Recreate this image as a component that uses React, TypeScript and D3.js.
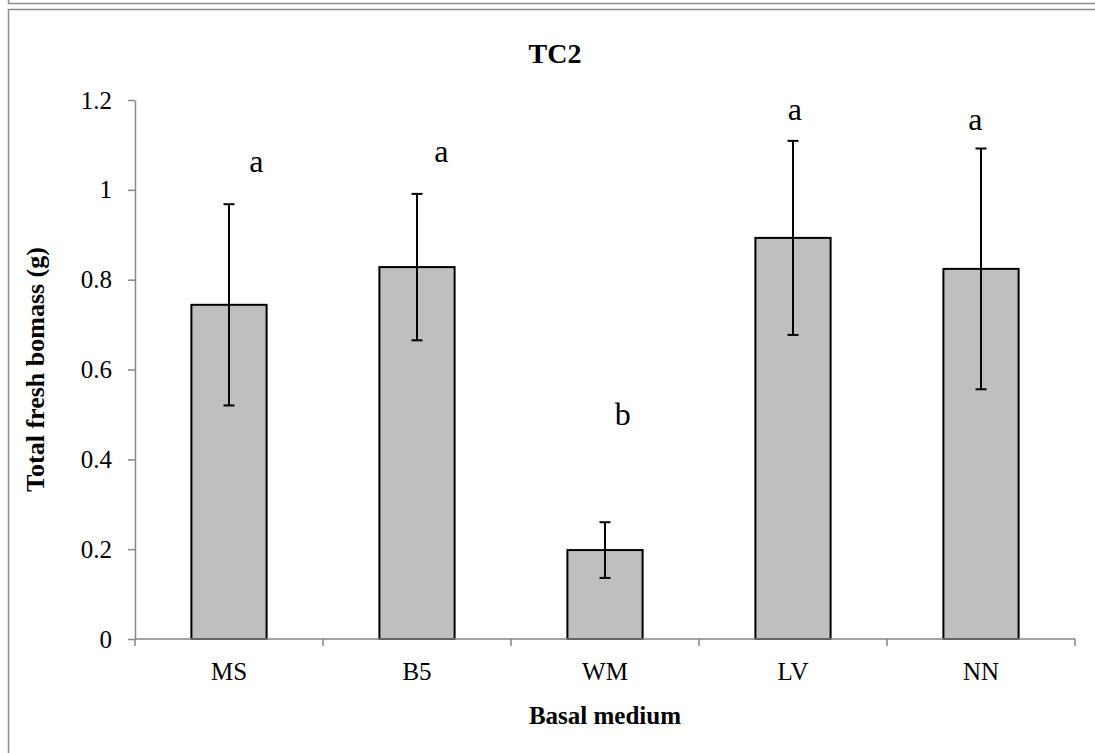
import React, { useEffect, useRef } from "react";
import * as d3 from "d3";

const categories = ["MS", "B5", "WM", "LV", "NN"];
const biomass = [0.744, 0.828, 0.198, 0.893, 0.824];
const errors = [0.224, 0.163, 0.062, 0.216, 0.268];
const letters = ["a", "a", "b", "a", "a"];
const letterHeights = [1.04, 1.062, 0.477, 1.155, 1.133];
// letters sit a little off the bar centre, as in the original (fraction of a category step)
const letterShift = [0.145, 0.13, 0.095, 0.01, -0.03];
const yTicks = [0, 0.2, 0.4, 0.6, 0.8, 1, 1.2];

const W = 1095;
const H = 753;

const App = () => {
    const chartRef = useRef<SVGSVGElement>(null);

    useEffect(() => {
        const svg = d3.select(chartRef.current);
        svg.selectAll("*").remove();

        const font = "'Liberation Serif', 'Times New Roman', serif";
        const left = 135;
        const right = 1075;
        const top = 100;
        const bottom = 639;

        // frame bits (previous chart's bottom edge + this chart's box)
        svg.append("path")
            .attr("d", `M8.5,0 V3.5 H${W}`)
            .attr("fill", "none")
            .attr("stroke", "#8c8c8c")
            .attr("stroke-width", 1.5);
        svg.append("path")
            .attr("d", `M${W},9.5 H8.5 V${H}`)
            .attr("fill", "none")
            .attr("stroke", "#8c8c8c")
            .attr("stroke-width", 1.5);

        const x = d3
            .scaleBand()
            .domain(categories)
            .range([left, right])
            .paddingInner(0.6)
            .paddingOuter(0.3);

        const y = d3.scaleLinear().domain([0, 1.2]).range([bottom, top]);

        // y axis
        const yAxis = svg
            .append("g")
            .attr("transform", `translate(${left},0)`)
            .call(
                d3
                    .axisLeft(y)
                    .tickValues(yTicks)
                    .tickSize(7)
                    .tickSizeOuter(0)
                    .tickPadding(16)
                    .tickFormat((d) => String(+(+d).toFixed(1)))
            );
        yAxis.select(".domain").attr("stroke", "#868686").attr("stroke-width", 1.5);
        yAxis.selectAll(".tick line").attr("stroke", "#868686").attr("stroke-width", 1.5);
        yAxis
            .selectAll(".tick text")
            .attr("font-family", font)
            .attr("font-size", 25)
            .attr("fill", "#000");

        // bars
        svg.append("g")
            .selectAll("rect")
            .data(categories)
            .enter()
            .append("rect")
            .attr("x", (d) => x(d)!)
            .attr("width", x.bandwidth())
            .attr("y", (d, i) => y(biomass[i]))
            .attr("height", (d, i) => y(0) - y(biomass[i]))
            .attr("fill", "#bfbfbf")
            .attr("stroke", "#000")
            .attr("stroke-width", 2);

        // x axis line + ticks on category boundaries
        const step = x.step();
        const xg = svg.append("g");
        xg.append("line")
            .attr("x1", left)
            .attr("x2", right)
            .attr("y1", y(0))
            .attr("y2", y(0))
            .attr("stroke", "#868686")
            .attr("stroke-width", 1.5);
        xg.selectAll("line.tk")
            .data(d3.range(categories.length + 1))
            .enter()
            .append("line")
            .attr("class", "tk")
            .attr("x1", (i) => left + i * step)
            .attr("x2", (i) => left + i * step)
            .attr("y1", y(0))
            .attr("y2", y(0) + 7)
            .attr("stroke", "#868686")
            .attr("stroke-width", 1.5);
        xg.selectAll("text")
            .data(categories)
            .enter()
            .append("text")
            .attr("x", (d) => x(d)! + x.bandwidth() / 2)
            .attr("y", 680)
            .attr("text-anchor", "middle")
            .attr("font-family", font)
            .attr("font-size", 25)
            .text((d) => d);

        // error bars
        const eg = svg.append("g").attr("stroke", "#000").attr("stroke-width", 2);
        categories.forEach((c, i) => {
            const cx = x(c)! + x.bandwidth() / 2;
            const hi = y(biomass[i] + errors[i]);
            const lo = y(biomass[i] - errors[i]);
            eg.append("line").attr("x1", cx).attr("x2", cx).attr("y1", hi).attr("y2", lo);
            eg.append("line").attr("x1", cx - 5.5).attr("x2", cx + 5.5).attr("y1", hi).attr("y2", hi);
            eg.append("line").attr("x1", cx - 5.5).attr("x2", cx + 5.5).attr("y1", lo).attr("y2", lo);
        });

        // significance letters
        svg.append("g")
            .selectAll("text")
            .data(categories)
            .enter()
            .append("text")
            .attr("x", (d, i) => x(d)! + x.bandwidth() / 2 + letterShift[i] * step)
            .attr("y", (d, i) => y(letterHeights[i]))
            .attr("text-anchor", "middle")
            .attr("font-family", font)
            .attr("font-size", 32)
            .text((d, i) => letters[i]);

        // titles
        svg.append("text")
            .attr("x", 555)
            .attr("y", 63)
            .attr("text-anchor", "middle")
            .attr("font-family", font)
            .attr("font-weight", "bold")
            .attr("font-size", 28)
            .text("TC2");

        svg.append("text")
            .attr("x", (left + right) / 2)
            .attr("y", 724)
            .attr("text-anchor", "middle")
            .attr("font-family", font)
            .attr("font-weight", "bold")
            .attr("font-size", 25)
            .text("Basal medium");

        svg.append("text")
            .attr("transform", `translate(44,${(top + bottom) / 2}) rotate(-90)`)
            .attr("text-anchor", "middle")
            .attr("font-family", font)
            .attr("font-weight", "bold")
            .attr("font-size", 26)
            .text("Total fresh bomass (g)");
    }, []);

    return (
        <div style={{ position: "absolute", left: 0, top: 0, width: W, height: H, background: "#fff" }}>
            <svg ref={chartRef} width={W} height={H} style={{ display: "block" }} />
        </div>
    );
};

export default App;
